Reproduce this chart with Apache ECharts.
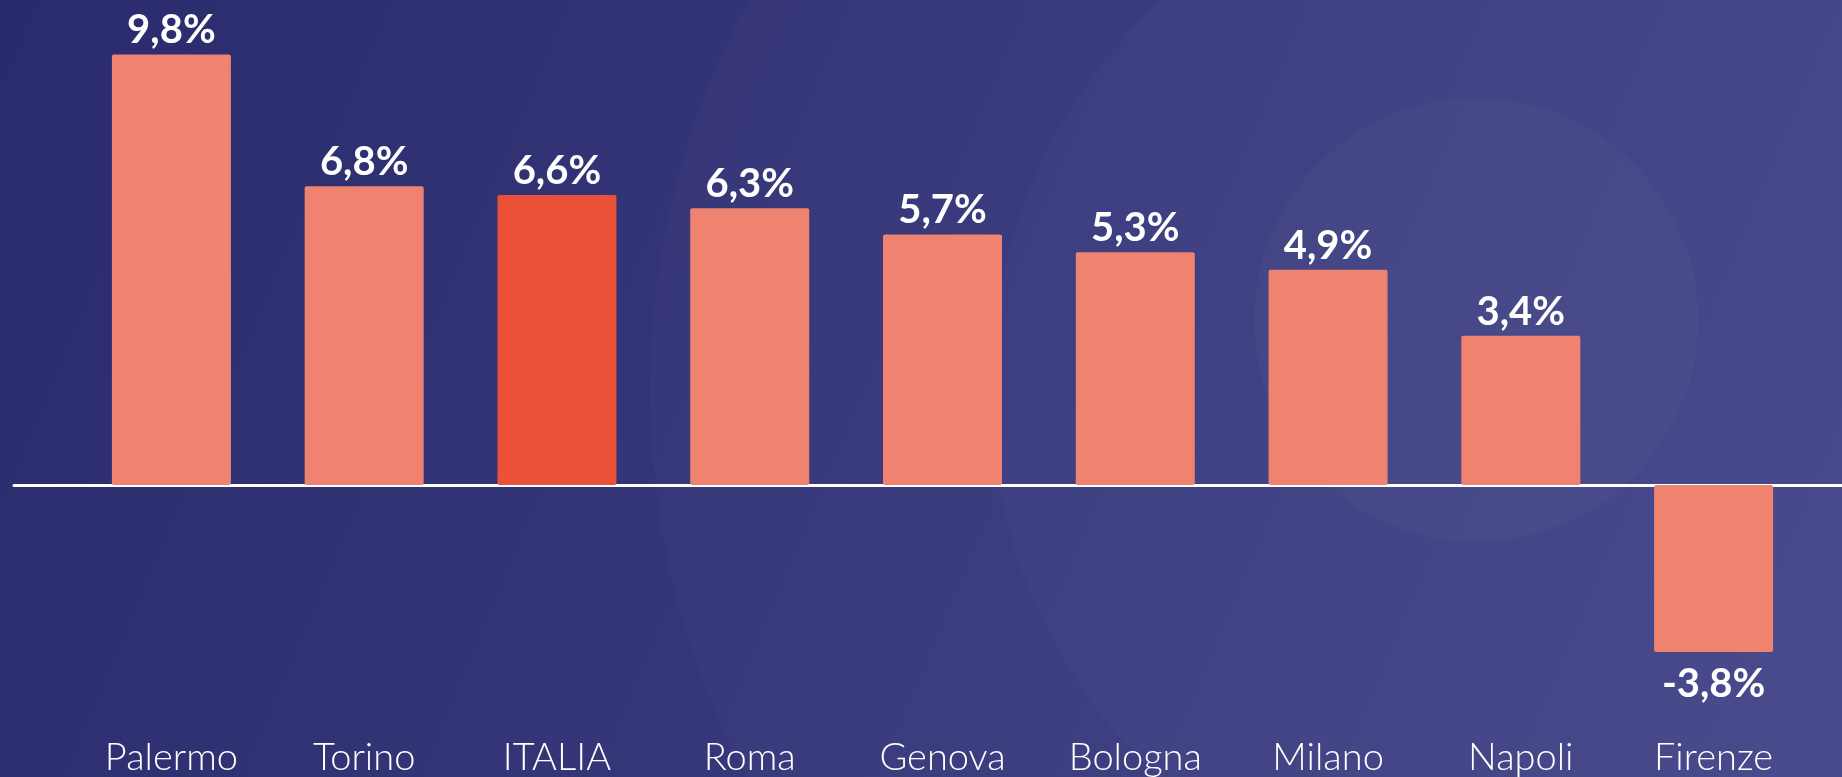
<!DOCTYPE html>
<html>
<head>
<meta charset="utf-8">
<script src="https://cdn.jsdelivr.net/npm/echarts@6/dist/echarts.min.js"></script>
<style>
  html, body { margin: 0; padding: 0; }
  #chart { width: 1842px; height: 777px; }
</style>
</head>
<body>
<div id="chart"></div>
<script>
var cities = ["Palermo", "Torino", "ITALIA", "Roma", "Genova", "Bologna", "Milano", "Napoli", "Firenze"];
var values = [9.8, 6.8, 6.6, 6.3, 5.7, 5.3, 4.9, 3.4, -3.8];
var highlight = "ITALIA";

var barColor = "#f0836f";
var italyColor = "#ea5137";

var myChart = echarts.init(document.getElementById("chart"));

var barData = values.map(function (v, i) {
  return {
    value: v,
    itemStyle: { color: cities[i] === highlight ? italyColor : barColor },
    // negative bars carry their label underneath
    label: v < 0 ? { position: "bottom", distance: 12 } : { position: "top", distance: 4 }
  };
});

myChart.setOption({
  backgroundColor: {
    type: "linear", x: 0, y: 0, x2: 1, y2: 1,
    colorStops: [
      { offset: 0, color: "#2a2b6c" },
      { offset: 1, color: "#434589" }
    ]
  },
  graphic: [
    // faint decorative circles in the background
    { type: "circle", z: -10, silent: true, shape: { cx: 1470, cy: 390, r: 820 },
      style: { fill: "rgba(255,255,255,0.018)" } },
    { type: "circle", z: -9, silent: true, shape: { cx: 1520, cy: 390, r: 530 },
      style: { fill: "rgba(255,255,255,0.018)" } },
    { type: "circle", z: -8, silent: true, shape: { cx: 1476, cy: 320, r: 222 },
      style: { fill: "rgba(255,255,255,0.022)" } }
  ],
  grid: [
    { left: 75, right: 32, top: 45.7, bottom: 116.3 },
    { left: 14, right: 0, top: 45.7, bottom: 116.3 }
  ],
  xAxis: [
    {
      type: "category",
      data: cities,
      gridIndex: 0,
      axisLine: { show: false, onZero: false },
      axisTick: { show: false },
      axisLabel: {
        color: "#ffffff",
        fontFamily: "Lato",
        fontWeight: 300,
        fontSize: 38,
        margin: 78
      }
    },
    {
      type: "category",
      data: [""],
      gridIndex: 1,
      axisLine: { show: true, onZero: true, lineStyle: { color: "#ffffff", width: 3 } },
      axisTick: { show: false },
      axisLabel: { show: false }
    }
  ],
  yAxis: [
    { type: "value", gridIndex: 0, min: -4, max: 10, show: false },
    { type: "value", gridIndex: 1, min: -4, max: 10, show: false }
  ],
  series: [
    {
      type: "bar",
      xAxisIndex: 0,
      yAxisIndex: 0,
      data: barData,
      barWidth: 119,
      z: 3,
      itemStyle: { borderRadius: 2 },
      label: {
        show: true,
        color: "#ffffff",
        fontFamily: "Lato",
        fontWeight: "bold",
        fontSize: 40,
        formatter: function (p) {
          return String(p.value).replace(".", ",") + "%";
        }
      }
    }
  ]
});
</script>
</body>
</html>
